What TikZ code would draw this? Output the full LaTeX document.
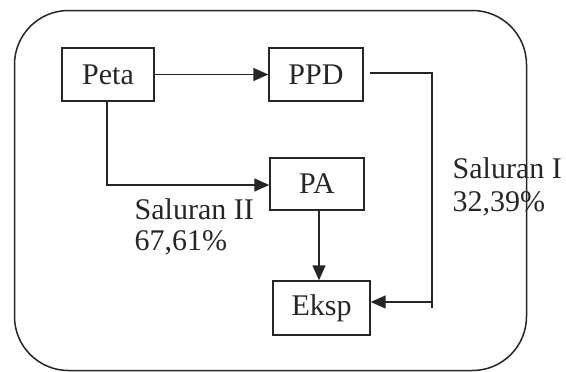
\documentclass[tikz,border=0pt]{standalone}
\usepackage{fontspec}
\setmainfont{Liberation Serif}
\usetikzlibrary{arrows.meta}
\begin{document}
\begin{tikzpicture}[x=1pt,y=-1pt,
  line width=1.4pt, color=black!85,
  boxnode/.style={draw, line width=1.4pt, minimum height=53pt, inner sep=0pt, font=\fontsize{30}{34}\selectfont},
  lbl/.style={anchor=base west, inner sep=0pt, font=\fontsize{30}{34}\selectfont},
  arr/.style={-{Triangle[length=15pt,width=13pt]}}]
\useasboundingbox (0,0) rectangle (566,372);
\draw[rounded corners=54pt, line width=1.5pt] (14.5,10.5) rectangle (526.5,370.5);
\node[boxnode, minimum width=92pt] (peta) at (108,74.5) {Peta};
\node[boxnode, minimum width=94pt] (ppd) at (316,74.5) {PPD};
\node[boxnode, minimum width=94pt, minimum height=52pt] (pa) at (317,184) {PA};
\node[boxnode, minimum width=97pt, minimum height=54pt] (eksp) at (321.5,308) {Eksp};
\coordinate (s1) at (370,73);
\coordinate (c1) at (432,73);
\coordinate (c2) at (432,308);
\coordinate (c3) at (432,302);
\coordinate (k1) at (107,185);
\draw[arr] (peta.east) -- (ppd.west);
\draw[arr] (peta.south -| k1) -- (k1) -- (pa.west |- k1);
\draw[arr] (pa.south -| 319,0) -- (eksp.north -| 319,0);
\draw (s1) -- (c1) -- (c2);
\draw[arr] (c3) -- (eksp.east |- c3);
\node[lbl] (l2a) at (134,219) {Saluran II};
\node[lbl] (l2b) at (134,250) {67,61\%};
\node[lbl] (l1a) at (452,178) {Saluran I};
\node[lbl] (l1b) at (452,211) {32,39\%};
\end{tikzpicture}
\end{document}
